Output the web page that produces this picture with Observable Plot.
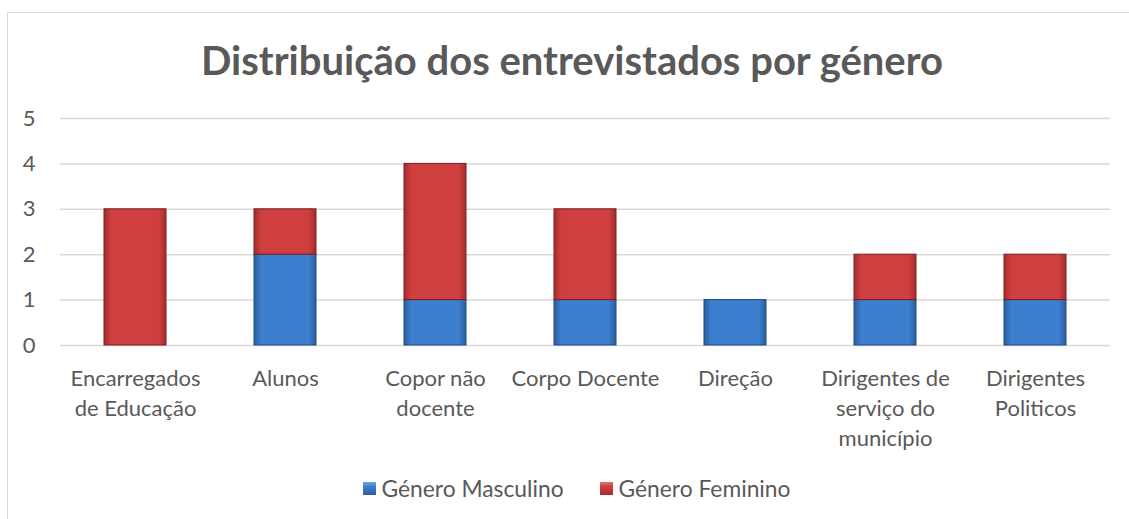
<!DOCTYPE html>
<html>
<head>
<meta charset="utf-8">
<script src="https://cdn.jsdelivr.net/npm/d3@7"></script>
<script src="https://cdn.jsdelivr.net/npm/@observablehq/plot@0.6"></script>
<style>
  html, body { margin: 0; padding: 0; background: #fff; width: 1129px; height: 519px; overflow: hidden; }
  body { position: relative; font-family: Lato, "Open Sans", sans-serif; color: #595959; }
  #frame { position: absolute; left: 7px; top: 12px; width: 1140px; height: 530px; border: 1.5px solid #d9d9d9; box-sizing: border-box; }
  #title { position: absolute; left: 0; width: 1144px; top: 35px; text-align: center; font-size: 40px; font-weight: bold; color: #595959; line-height: 50px; }
  #chart { position: absolute; left: 0; top: 95px; }
  #legend { position: absolute; left: 0; width: 1129px; top: 475px; display: flex; justify-content: center; gap: 36px; font-size: 22.8px; line-height: 26px; color: #595959; padding-left: 24px; box-sizing: border-box; }
  .item { display: flex; align-items: center; gap: 6px; }
  .sw { width: 13px; height: 13px; display: inline-block; }
</style>
</head>
<body>
<div id="frame"></div>
<div id="title">Distribuição dos entrevistados por género</div>
<div id="chart"></div>
<div id="legend"></div>
<script>
const categories = ["Encarregados de Educação", "Alunos", "Copor não docente", "Corpo Docente", "Direção", "Dirigentes de serviço do município", "Dirigentes Politicos"];
const categoryLabels = ["Encarregados\nde Educação", "Alunos", "Copor não\ndocente", "Corpo Docente", "Direção", "Dirigentes de\nserviço do\nmunicípio", "Dirigentes\nPoliticos"];
const seriesNames = ["Género Masculino", "Género Feminino"];
const masculino = [0, 2, 1, 1, 1, 1, 1];
const feminino = [3, 1, 3, 2, 0, 1, 1];
const yTicks = [0, 1, 2, 3, 4, 5];

const data = [];
categories.forEach((c, i) => {
  data.push({cat: c, series: seriesNames[0], value: masculino[i]});
  data.push({cat: c, series: seriesNames[1], value: feminino[i]});
});
const labelOf = new Map(categories.map((c, i) => [c, categoryLabels[i]]));

const chart = Plot.plot({
  width: 1129,
  height: 380,
  marginTop: 23,
  marginBottom: 130,
  marginLeft: 60,
  marginRight: 19,
  style: {fontFamily: "Lato, 'Open Sans', sans-serif", fontSize: "22px", color: "#595959", background: "transparent"},
  x: {domain: categories, paddingInner: 0.59, paddingOuter: 0.295, label: null},
  y: {domain: [0, 5], label: null},
  color: {domain: seriesNames, range: ["url(#gBlue)", "url(#gRed)"]},
  marks: [
    Plot.gridY(yTicks, {stroke: "#d9d9d9", strokeOpacity: 1, strokeWidth: 1.5}),
    Plot.axisY(yTicks, {tickSize: 0, tickPadding: 25, fontSize: 22, fill: "#595959", label: null}),
    Plot.axisX({tickSize: 0, tickPadding: 19, fontSize: 22, fill: "#595959", lineHeight: 1.36, tickFormat: d => labelOf.get(d), label: null}),
    Plot.barY(data.filter(d => d.value > 0), Plot.stackY({x: "cat", y: "value", fill: "series", order: seriesNames, stroke: d => d.series === seriesNames[0] ? "#1f4a80" : "#7a1e1e", strokeWidth: 1})),
  ]
});

const svgEl = chart.tagName.toLowerCase() === "svg" ? chart : chart.querySelector("svg");
const defs = d3.select(svgEl).insert("defs", ":first-child");
function grad(id, edge, mid) {
  const g = defs.append("linearGradient").attr("id", id).attr("x1", 0).attr("x2", 1).attr("y1", 0).attr("y2", 0);
  g.append("stop").attr("offset", "0%").attr("stop-color", edge);
  g.append("stop").attr("offset", "12%").attr("stop-color", mid);
  g.append("stop").attr("offset", "88%").attr("stop-color", mid);
  g.append("stop").attr("offset", "100%").attr("stop-color", edge);
}
grad("gBlue", "#2c5e9e", "#3d7fcf");
grad("gRed", "#a52c2c", "#cf3f3f");
document.getElementById("chart").appendChild(chart);

const legend = document.getElementById("legend");
seriesNames.forEach((s, i) => {
  const item = document.createElement("div");
  item.className = "item";
  const sw = document.createElement("span");
  sw.className = "sw";
  sw.style.background = i === 0 ? "linear-gradient(#6fa8e8, #3d7fcf 35%, #2c5e9e)" : "linear-gradient(#e87070, #cf3f3f 35%, #a52c2c)";
  item.appendChild(sw);
  const t = document.createElement("span");
  t.textContent = s;
  item.appendChild(t);
  legend.appendChild(item);
});
</script>
</body>
</html>
